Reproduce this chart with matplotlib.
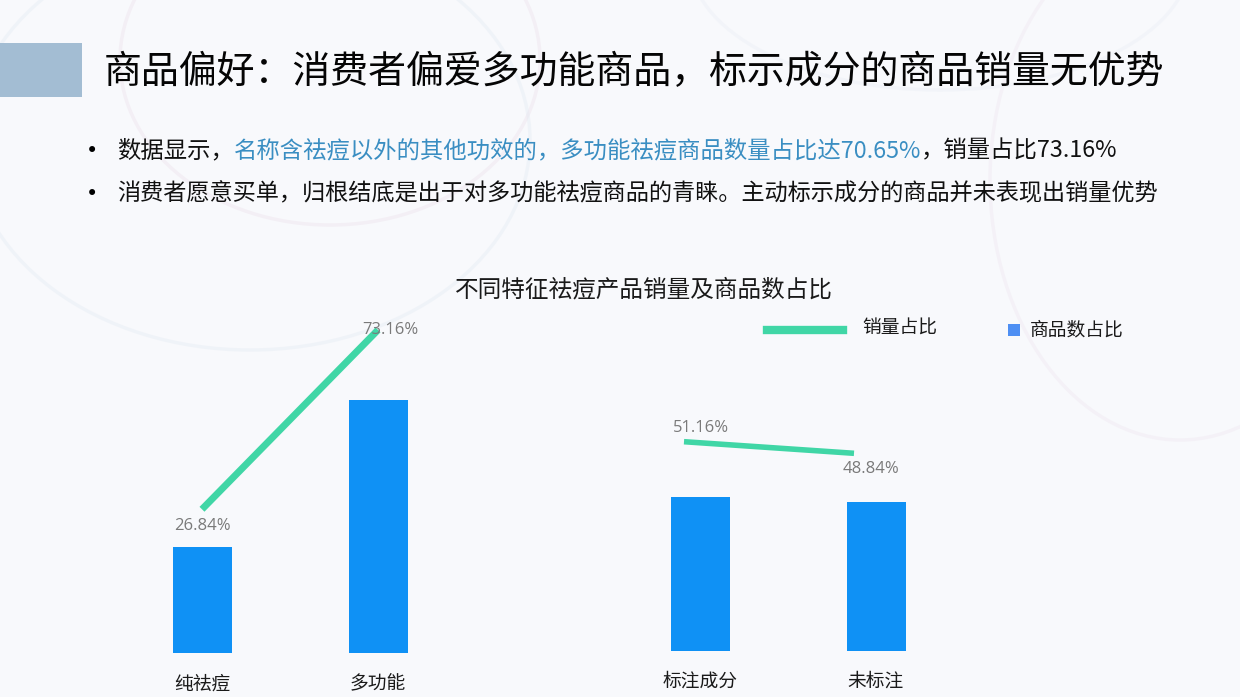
import matplotlib
matplotlib.use('Agg')
import matplotlib.pyplot as plt
from matplotlib.patches import Rectangle, Ellipse
from matplotlib.lines import Line2D

plt.rcParams['font.family'] = ['Noto Sans CJK SC', 'DejaVu Sans']

# ---------------- data ----------------
title = '商品偏好：消费者偏爱多功能商品，标示成分的商品销量无优势'
chart_title = '不同特征祛痘产品销量及商品数占比'
cats_a = ['纯祛痘', '多功能']
count_share_a = [29.35, 70.65]
sales_share_a = [26.84, 73.16]
cats_b = ['标注成分', '未标注']
count_share_b = [50.83, 49.17]
sales_share_b = [51.16, 48.84]
legend_labels = ['销量占比', '商品数占比']
bullet1_parts = [('数据显示，', 'black'),
                 ('名称含祛痘以外的其他功效的，多功能祛痘商品数量占比达70.65%', 'blue'),
                 ('，销量占比73.16%', 'black')]
bullet2 = '消费者愿意买单，归根结底是出于对多功能祛痘商品的青睐。主动标示成分的商品并未表现出销量优势'

# ---------------- style ----------------
W, H = 1240, 697
BAR_C = '#0F91F5'
LINE_C = '#40D6A6'
LEG_SQ = '#4E8FF3'
LABEL_C = '#7A7A7A'
BLUE_TXT = '#3A8EC2'
NUM_FONT = ['Open Sans', 'DejaVu Sans']

fig = plt.figure(figsize=(W / 100, H / 100), dpi=100)
fig.patch.set_facecolor('#F8F9FC')


def px_axes(left, top, right, bottom, z=1):
    ax = fig.add_axes([left / W, 1 - bottom / H, (right - left) / W, (bottom - top) / H], zorder=z)
    ax.patch.set_alpha(0)
    for s in ax.spines.values():
        s.set_visible(False)
    ax.set_yticks([])
    ax.tick_params(length=0)
    return ax


# faint background decoration
bg = fig.add_axes([0, 0, 1, 1], zorder=0)
bg.set_xlim(0, W)
bg.set_ylim(H, 0)
bg.axis('off')
for (cx, cy, w, h, col) in [(330, 60, 420, 330, '#EBDDE8'), (250, 140, 560, 420, '#E1E9F2'),
                            (1180, 180, 380, 520, '#EDE4EE'), (940, -40, 500, 260, '#E8EDF4')]:
    bg.add_patch(Ellipse((cx, cy), w, h, fill=False, ec=col, lw=2.5, alpha=0.35))

# header bar & title
bg.add_patch(Rectangle((0, 43), 82, 54, color='#A3BDD3', lw=0))
fig.text(104 / W, 1 - 73 / H, title, fontsize=27.3, color='#050505', va='center', ha='left',
         fontweight='medium')

# bullets
renderer = fig.canvas.get_renderer()
for yy in (151, 194):
    fig.text(92 / W, 1 - yy / H, '•', fontsize=15, color='black', va='center', ha='center',
             family=['DejaVu Sans'])
x = 117
for s, c in bullet1_parts:
    t = fig.text(x / W, 1 - 151 / H, s, fontsize=16.8, color=(BLUE_TXT if c == 'blue' else '#111111'),
                 va='center', ha='left')
    x += t.get_window_extent(renderer=renderer).width
fig.text(117 / W, 1 - 194 / H, bullet2, fontsize=16.7, color='#111111', va='center', ha='left')

# chart title
fig.text(644 / W, 1 - 290 / H, chart_title, fontsize=17, color='#1A1A1A', va='center', ha='center')

# legend
bg.add_line(Line2D([767, 843], [330, 330], color=LINE_C, lw=6))
fig.text(862 / W, 1 - 328 / H, legend_labels[0], fontsize=13.5, color='#1A1A1A', va='center', ha='left')
bg.add_patch(Rectangle((1008, 324), 12, 12, color=LEG_SQ, lw=0))
fig.text(1030 / W, 1 - 330 / H, legend_labels[1], fontsize=13.5, color='#1A1A1A', va='center', ha='left')

# ---------------- bars ----------------
bar_w = 59 / 176
ax_a = px_axes(114, 300, 466, 652.5, z=2)
ax_a.bar(range(len(cats_a)), count_share_a, width=bar_w, color=BAR_C)
ax_a.set_xlim(-0.5, 1.5)
ax_a.set_ylim(0, 352.5 / 3.58)
ax_a.set_xticks(range(len(cats_a)), cats_a, fontsize=13.5, color='#1A1A1A')
ax_a.tick_params(axis='x', pad=15)

ax_b = px_axes(612, 300, 964, 651, z=2)
ax_b.bar(range(len(cats_b)), count_share_b, width=bar_w, color=BAR_C)
ax_b.set_xlim(-0.5, 1.5)
ax_b.set_ylim(0, 351 / 3.03)
ax_b.set_xticks(range(len(cats_b)), cats_b, fontsize=13.5, color='#1A1A1A')
ax_b.tick_params(axis='x', pad=14)

# ---------------- lines ----------------
la = px_axes(114, 226, 466, 613.2, z=3)
la.set_xticks([])
la.plot(range(len(cats_a)), sales_share_a, color=LINE_C, lw=5, solid_capstyle='butt')
la.set_xlim(-0.5, 1.5)
la.set_ylim(0, 100)
offs_a = [(0, -12), (9, 0)]
for i, v in enumerate(sales_share_a):
    la.annotate(f'{v:.2f}%', (i, v), xytext=offs_a[i], textcoords='offset points',
                ha='center', va='center', fontsize=12, color=LABEL_C, family=NUM_FONT)

lb = px_axes(599, 197.5, 939, 697.5, z=3)
lb.set_xticks([])
lb.plot(range(len(cats_b)), sales_share_b, color=LINE_C, lw=4, solid_capstyle='butt')
lb.set_xlim(-0.5, 1.5)
lb.set_ylim(0, 100)
offs_b = [(12, 10), (12, -11)]
for i, v in enumerate(sales_share_b):
    lb.annotate(f'{v:.2f}%', (i, v), xytext=offs_b[i], textcoords='offset points',
                ha='center', va='center', fontsize=12, color=LABEL_C, family=NUM_FONT)

fig.savefig('out.png', dpi=100, facecolor=fig.get_facecolor())
